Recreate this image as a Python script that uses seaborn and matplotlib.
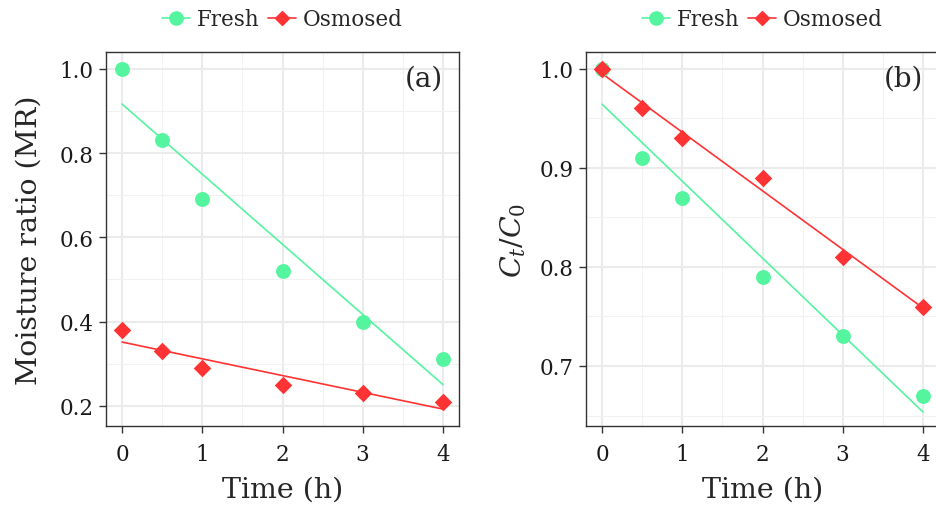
import matplotlib
matplotlib.use("Agg")
import matplotlib.pyplot as plt
from matplotlib.lines import Line2D
from matplotlib.ticker import MultipleLocator
import seaborn as sns
import pandas as pd

# ---- data ----
time_h = [0, 0.5, 1, 2, 3, 4]
mr_fresh = [1.00, 0.83, 0.69, 0.52, 0.40, 0.31]
mr_osmosed = [0.38, 0.33, 0.29, 0.25, 0.23, 0.21]
ct_fresh = [1.00, 0.91, 0.87, 0.79, 0.73, 0.67]
ct_osmosed = [1.00, 0.96, 0.93, 0.89, 0.81, 0.76]
series_names = ["Fresh", "Osmosed"]
x_ticks = [0, 1, 2, 3, 4]
mr_ticks = [0.2, 0.4, 0.6, 0.8, 1.0]
ct_ticks = [0.7, 0.8, 0.9, 1.0]

c_fresh = "#55F5A0"
c_osm = "#FF3333"

sns.set_theme(style="white")
plt.rcParams["font.family"] = ["DejaVu Serif"]
plt.rcParams["mathtext.fontset"] = "dejavuserif"

fig = plt.figure(figsize=(9.36, 5.06), dpi=100)
W, H = 936, 506
def axpos(l, r, t, b):
    return [l / W, (H - b) / H, (r - l) / W, (b - t) / H]

ax1 = fig.add_axes(axpos(106, 459, 53, 427))
ax2 = fig.add_axes(axpos(586, 939, 53, 427))

df_a = pd.DataFrame({"t": time_h, "fresh": mr_fresh, "osm": mr_osmosed})
df_b = pd.DataFrame({"t": time_h, "fresh": ct_fresh, "osm": ct_osmosed})

def draw(ax, df, yticks, ylim, ylabel, tag, ylabelpad):
    ax.set_axisbelow(True)
    sns.regplot(data=df, x="t", y="fresh", ax=ax, ci=None, color=c_fresh,
                marker="o", scatter_kws=dict(s=115, linewidths=0, alpha=1, zorder=3),
                line_kws=dict(lw=1.2, zorder=2))
    sns.regplot(data=df, x="t", y="osm", ax=ax, ci=None, color=c_osm,
                marker="D", scatter_kws=dict(s=80, linewidths=0, alpha=1, zorder=4),
                line_kws=dict(lw=1.2, zorder=2))
    ax.set_xlim(-0.2, 4.2)
    ax.set_ylim(*ylim)
    ax.set_xticks(x_ticks)
    ax.set_yticks(yticks)
    ax.set_yticklabels([f"{v:.1f}" for v in yticks])
    ax.xaxis.set_minor_locator(MultipleLocator(0.5))
    step = yticks[1] - yticks[0]
    ax.yaxis.set_minor_locator(MultipleLocator(step / 2))
    ax.grid(which="major", color="#EBEBEB", lw=1.5)
    ax.grid(which="minor", color="#F2F2F2", lw=0.8)
    for s in ax.spines.values():
        s.set_color("#333333")
        s.set_linewidth(1.0)
    ax.tick_params(which="major", direction="out", length=5, width=1.0,
                   color="#333333", labelsize=15.5, labelcolor="#1a1a1a",
                   bottom=True, left=True)
    ax.tick_params(axis="x", which="major", pad=7)
    ax.tick_params(axis="y", which="major", pad=4)
    ax.tick_params(which="minor", length=0)
    ax.set_xlabel("Time (h)", fontsize=20.5, labelpad=8)
    ax.set_ylabel(ylabel, fontsize=20.5, labelpad=ylabelpad)
    ax.text(0.955, 0.93, tag, transform=ax.transAxes, ha="right", va="center",
            fontsize=20)
    handles = [
        Line2D([], [], color=c_fresh, marker="o", markersize=9.5, lw=1.2),
        Line2D([], [], color=c_osm, marker="D", markersize=7.5, lw=1.2),
    ]
    ax.legend(handles, series_names, loc="lower center", bbox_to_anchor=(0.5, 1.035),
              ncol=2, frameon=False, fontsize=15.5, handlelength=1.3,
              handletextpad=0.3, columnspacing=0.4, borderaxespad=0)

draw(ax1, df_a, mr_ticks, (0.152, 1.04), "Moisture ratio (MR)", "(a)", 12)
draw(ax2, df_b, ct_ticks, (0.6394, 1.017), r"$C_t/C_0$", "(b)", 8)

fig.savefig("out.png", dpi=100)
